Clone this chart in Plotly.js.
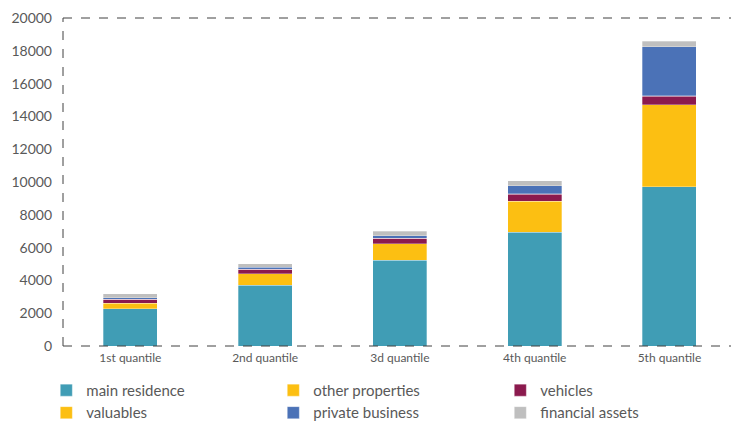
<!DOCTYPE html>
<html>
<head>
<meta charset="utf-8">
<script src="https://cdn.plot.ly/plotly-3.0.1.min.js"></script>
<style>html,body{margin:0;padding:0;background:#fff;}#chart{width:731px;height:429px;}</style>
</head>
<body>
<div id="chart"></div>
<script>
const categories = ["1st quantile", "2nd quantile", "3d quantile", "4th quantile", "5th quantile"];
const mainResidence = [2270, 3700, 5240, 6930, 9710];
const otherProperties = [330, 710, 990, 1910, 5000];
const vehicles = [240, 270, 330, 410, 510];
const valuables = [10, 10, 15, 20, 30];
const privateBusiness = [100, 100, 160, 490, 3000];
const financialAssets = [225, 240, 265, 320, 345];

const seriesNames = ["main residence", "other properties", "vehicles", "valuables", "private business", "financial assets"];
const seriesValues = [mainResidence, otherProperties, vehicles, valuables, privateBusiness, financialAssets];
const seriesColors = ["#409db5", "#fcbf12", "#8b1a4e", "#fcbf12", "#4b72b7", "#bfbfbf"];

const traces = seriesNames.map((n, i) => ({
  type: "bar",
  name: n,
  x: categories,
  y: seriesValues[i],
  marker: {color: seriesColors[i], line: {width: 0.5, color: "rgba(255,255,255,0.6)"}},
  hoverinfo: "x+y+name"
}));

const font = {family: "Lato, 'Open Sans', sans-serif", color: "#595959", size: 13};
const dash = {color: "#404040", width: 1, dash: "dash"};

const layout = {
  width: 731, height: 429,
  margin: {l: 63, r: 0, t: 18, b: 83},
  paper_bgcolor: "#fff", plot_bgcolor: "#fff",
  barmode: "stack",
  bargap: 0.6,
  font: font,
  showlegend: true,
  legend: {orientation: "h", x: -0.025, xanchor: "left", y: -0.085, yanchor: "top",
           entrywidth: 182, entrywidthmode: "pixels", traceorder: "normal",
           font: {family: font.family, color: "#595959", size: 15}, itemwidth: 30},
  xaxis: {range: [-0.5, 4.457], showgrid: false, zeroline: false, showline: false, ticks: "",
          ticklabelstandoff: 3, tickfont: {size: 12, color: "#595959"}},
  yaxis: {range: [0, 20000], dtick: 2000, tickformat: "d", showgrid: false, zeroline: false, showline: false,
          ticks: "", ticklabelstandoff: 10, tickfont: {size: 14, color: "#595959"}},
  shapes: [
    {type: "line", xref: "paper", yref: "paper", x0: 0, x1: 0, y0: 0, y1: 1, line: dash},
    {type: "line", xref: "paper", yref: "paper", x0: 0, x1: 1, y0: 1, y1: 1, line: dash},
    {type: "line", xref: "paper", yref: "paper", x0: 0, x1: 1, y0: 0, y1: 0, line: dash}
  ]
};

Plotly.newPlot("chart", traces, layout, {displayModeBar: false, staticPlot: true});
</script>
</body>
</html>
